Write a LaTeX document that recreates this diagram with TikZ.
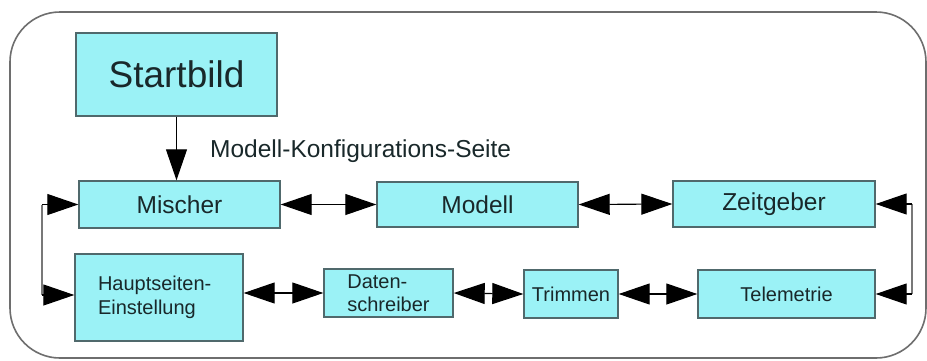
\documentclass[tikz,border=0pt]{standalone}
\usepackage{fontspec}
\setmainfont{Liberation Sans}
\usetikzlibrary{arrows.meta,calc}
\definecolor{boxfill}{RGB}{155,242,246}
\definecolor{boxline}{RGB}{80,105,108}
\definecolor{txt}{RGB}{25,40,42}
\definecolor{frame}{RGB}{110,110,110}
\definecolor{loopgray}{RGB}{120,120,120}
\tikzset{
  blk/.style={draw=boxline, line width=1.4pt, fill=boxfill, text=txt, inner sep=0pt, align=center},
  big/.style={font=\fontsize{24.5pt}{28pt}\selectfont},
  small/.style={font=\fontsize{20pt}{23.5pt}\selectfont},
  tip/.style={Triangle[length=31pt,width=21pt]},
  dbl/.style={black, line width=1.1pt, {Triangle[length=31pt,width=21pt]}-{Triangle[length=31pt,width=21pt]}},
  one/.style={black, line width=1.1pt, -{Triangle[length=31pt,width=21pt]}},
  loopline/.style={loopgray, line width=2.2pt}
}
\begin{document}
\begin{tikzpicture}[x=1pt,y=-1pt]
\useasboundingbox (0,0) rectangle (927,360);
\fill[white] (0,0) rectangle (927,360);
\draw[frame, line width=1.6pt, rounded corners=50pt] (10,12) rectangle (926,358);

\node[blk, minimum width=201pt, minimum height=83pt, font=\fontsize{37pt}{40pt}\selectfont] (start) at (176.5,74.5) {Startbild};
\node[blk, big, minimum width=201pt, minimum height=47pt] (misch) at (179.5,204.5) {Mischer};
\node[blk, big, minimum width=201pt, minimum height=45pt] (modell) at (477.5,204.5) {Modell};
\node[blk, big, minimum width=202pt, minimum height=46pt] (zeit) at (774,204) {Zeitgeber};
\node[blk, small, align=left, text width=122pt, inner xsep=23pt, minimum height=87pt] (haupt) at (159,297.5) {Hauptseiten-\\Einstellung};
\node[blk, small, align=left, minimum width=129pt, minimum height=48pt] (daten) at (388.5,293) {Daten-\\schreiber};
\node[blk, small, minimum width=94pt, minimum height=48pt] (trim) at (571,294) {Trimmen};
\node[blk, small, minimum width=177pt, minimum height=48pt] (tele) at (786.5,294) {Telemetrie};

\node[big, text=txt, anchor=base west, inner sep=0pt] (lbl) at (210,157) {Modell-Konfigurations-Seite};

% down arrow
\draw[one] (start.south) ++(0,0) coordinate (ds) (ds) -- (ds |- misch.north);

% top row
\draw[dbl] (misch.east) -- (modell.west);
\draw[dbl] (modell.east) -- (zeit.west);

% bottom row
\draw[dbl] (haupt.east |- daten.west) -- (daten.west);
\draw[dbl] (daten.east) -- (trim.west);
\draw[dbl] (trim.east) -- (tele.west);

% left loop
\coordinate (l1) at (42,204.5);
\coordinate (l2) at (42,295);
\draw[loopline] (l1) -- (l2);
\draw[one] (l1) -- (misch.west);
\draw[one] (l2) -- (l2 -| haupt.west);

% right loop
\coordinate (r1) at (912,204);
\coordinate (r2) at (912,294);
\draw[loopline] (r1) -- (r2);
\draw[one] (r1) -- (zeit.east);
\draw[one] (r2) -- (tele.east);
\end{tikzpicture}
\end{document}
